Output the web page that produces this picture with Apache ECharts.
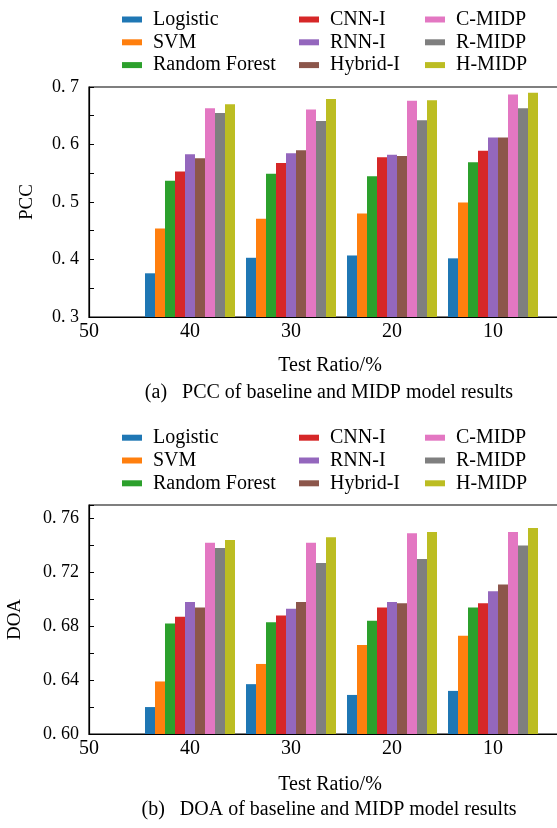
<!DOCTYPE html>
<html>
<head>
<meta charset="utf-8">
<script src="https://cdn.jsdelivr.net/npm/echarts@6/dist/echarts.min.js"></script>
<style>
  html, body { margin: 0; padding: 0; background: #fff; }
  #chart { width: 557px; height: 828px; }
</style>
</head>
<body>
<div id="chart"></div>
<script>
// test ratio categories ('50' and '0' only frame the axis)
const ratios = ['50', '40', '30', '20', '10', '0']
const models = ['Logistic', 'SVM', 'Random Forest', 'CNN-I', 'RNN-I', 'Hybrid-I', 'C-MIDP', 'R-MIDP', 'H-MIDP']
const colors = ['#1f77b4', '#ff7f0e', '#2ca02c', '#d62728', '#9467bd', '#8c564b', '#e377c2', '#7f7f7f', '#bcbd22']

// PCC, ratios 40 / 30 / 20 / 10
const pccLogistic = [0.376, 0.403, 0.407, 0.402]
const pccSVM = [0.454, 0.471, 0.480, 0.499]
const pccRF = [0.537, 0.549, 0.545, 0.569]
const pccCNN = [0.553, 0.568, 0.578, 0.589]
const pccRNN = [0.583, 0.585, 0.582, 0.612]
const pccHybrid = [0.576, 0.590, 0.580, 0.612]
const pccCMIDP = [0.663, 0.661, 0.676, 0.687]
const pccRMIDP = [0.655, 0.641, 0.642, 0.663]
const pccHMIDP = [0.670, 0.679, 0.677, 0.690]

// DOA, ratios 40 / 30 / 20 / 10
const doaLogistic = [0.620, 0.637, 0.629, 0.632]
const doaSVM = [0.639, 0.652, 0.666, 0.673]
const doaRF = [0.682, 0.683, 0.684, 0.694]
const doaCNN = [0.687, 0.688, 0.694, 0.697]
const doaRNN = [0.698, 0.693, 0.698, 0.706]
const doaHybrid = [0.694, 0.698, 0.697, 0.711]
const doaCMIDP = [0.742, 0.742, 0.749, 0.750]
const doaRMIDP = [0.738, 0.727, 0.730, 0.740]
const doaHMIDP = [0.744, 0.746, 0.750, 0.753]

const pccTicks = [0.3, 0.4, 0.5, 0.6, 0.7]
const doaTicks = [0.60, 0.64, 0.68, 0.72, 0.76]

const pccSeries = [pccLogistic, pccSVM, pccRF, pccCNN, pccRNN, pccHybrid, pccCMIDP, pccRMIDP, pccHMIDP]
const doaSeries = [doaLogistic, doaSVM, doaRF, doaCNN, doaRNN, doaHybrid, doaCMIDP, doaRMIDP, doaHMIDP]

const font = 'Liberation Serif'
const chart = echarts.init(document.getElementById('chart'))

// y label like "0. 7" (as printed in the figure)
const tickFormatter = (ticks, digits) => (v) => {
  const hit = ticks.some(t => Math.abs(t - v) < 1e-6)
  return hit ? v.toFixed(digits).replace('.', '. ') : ''
}

const makeLegends = (top) => [
  models.slice(0, 3), models.slice(3, 6), models.slice(6, 9)
].map((names, i) => ({
  data: names,
  orient: 'vertical',
  left: [122, 299, 425][i],
  top: top,
  padding: 0,
  icon: 'rect',
  itemWidth: 20,
  itemHeight: 6,
  itemGap: 2.8,
  selectedMode: false,
  textStyle: { fontFamily: font, fontSize: 20, color: '#000', lineHeight: 20, padding: [0, 0, 0, 6] }
}))

const makeBars = (list, axisIdx) => list.map((vals, i) => ({
  name: models[i],
  type: 'bar',
  xAxisIndex: axisIdx,
  yAxisIndex: axisIdx,
  barWidth: 10,
  barGap: '0%',
  itemStyle: { color: colors[i] },
  data: [null].concat(vals)
}))

const xAxisBase = (gridIdx) => ({
  type: 'category',
  gridIndex: gridIdx,
  data: ratios,
  boundaryGap: false,
  axisLine: { lineStyle: { color: '#000', width: 1.2 } },
  axisTick: { show: false },
  axisLabel: { fontFamily: font, fontSize: 20, color: '#000', margin: 5 }
})

const yAxisBase = (gridIdx) => ({
  type: 'value',
  gridIndex: gridIdx,
  nameLocation: 'middle',
  nameRotate: 90,
  nameTextStyle: { fontFamily: font, fontSize: 19, color: '#000' },
  axisLine: { show: true, lineStyle: { color: '#000', width: 1.2 } },
  axisTick: { show: true, inside: true, length: 5, lineStyle: { color: '#000' } },
  axisLabel: { fontFamily: font, fontSize: 18, color: '#000', margin: 10 },
  splitLine: { show: false }
})

const option = {
  animation: false,
  backgroundColor: '#fff',
  legend: makeLegends(9.5).concat(makeLegends(427.7)),
  title: [
    { text: 'Test Ratio/%', left: 325, top: 351, textAlign: 'center',
      textStyle: { fontFamily: font, fontSize: 20, fontWeight: 'normal', color: '#000' } },
    { text: '(a)   PCC of baseline and MIDP model results', left: 324, top: 378, textAlign: 'center',
      textStyle: { fontFamily: font, fontSize: 20, fontWeight: 'normal', color: '#000' } },
    { text: 'Test Ratio/%', left: 325, top: 770, textAlign: 'center',
      textStyle: { fontFamily: font, fontSize: 20, fontWeight: 'normal', color: '#000' } },
    { text: '(b)   DOA of baseline and MIDP model results', left: 324, top: 795, textAlign: 'center',
      textStyle: { fontFamily: font, fontSize: 20, fontWeight: 'normal', color: '#000' } }
  ],
  grid: [
    { left: 89, width: 505, top: 87, height: 230, outerBoundsMode: 'none', show: true, borderColor: '#000', borderWidth: 1.2, backgroundColor: 'transparent' },
    { left: 89, width: 505, top: 505, height: 229, outerBoundsMode: 'none', show: true, borderColor: '#000', borderWidth: 1.2, backgroundColor: 'transparent' }
  ],
  xAxis: [xAxisBase(0), xAxisBase(1)],
  yAxis: [
    Object.assign(yAxisBase(0), {
      name: 'PCC', nameGap: 52, min: 0.3, max: 0.7, interval: 0.05,
      axisLabel: Object.assign(yAxisBase(0).axisLabel, { formatter: tickFormatter(pccTicks, 1) })
    }),
    Object.assign(yAxisBase(1), {
      name: 'DOA', nameGap: 64, min: 0.60, max: 0.77, interval: 0.02,
      axisLabel: Object.assign(yAxisBase(1).axisLabel, { formatter: tickFormatter(doaTicks, 2) })
    })
  ],
  series: makeBars(pccSeries, 0).concat(makeBars(doaSeries, 1))
}

chart.setOption(option)
</script>
</body>
</html>
